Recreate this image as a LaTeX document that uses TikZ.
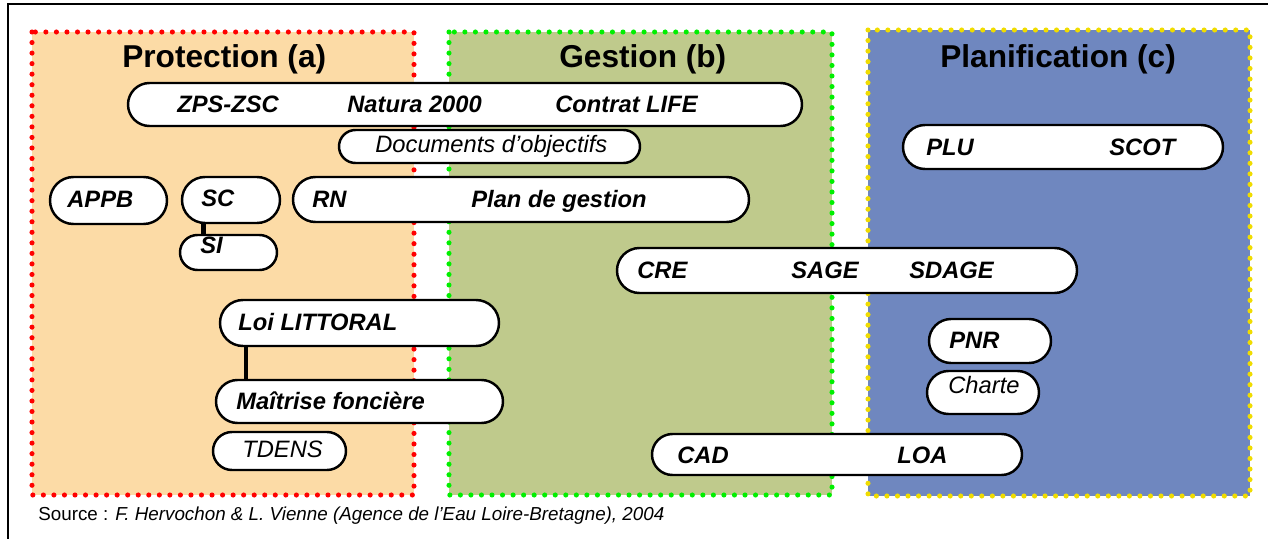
\documentclass[tikz,border=0pt]{standalone}
\usepackage{fontspec}
\setmainfont{Liberation Sans}
\usetikzlibrary{shapes.misc,fit}

\definecolor{protfill}{RGB}{252,219,166}
\definecolor{gestfill}{RGB}{191,202,140}
\definecolor{planfill}{RGB}{111,135,191}
\definecolor{protdot}{RGB}{255,0,0}
\definecolor{gestdot}{RGB}{0,240,0}
\definecolor{plandot}{RGB}{240,220,0}

\tikzset{
  zone/.style={line width=2.9pt,line cap=round,dash pattern=on 0pt off 6pt},
  pill/.style={rounded rectangle,draw=black,fill=white,line width=1.4pt,inner sep=0pt},
  lab/.style={anchor=base west,inner sep=0pt,font=\fontsize{13.5}{16}\selectfont\bfseries\itshape},
  labit/.style={anchor=base west,inner sep=0pt,font=\fontsize{13.5}{16}\selectfont\itshape},
  titre/.style={anchor=base west,inner sep=0pt,font=\fontsize{18}{22}\selectfont\bfseries},
  link/.style={line width=2.4pt}
}

% pill from its outer corners (x1,y1) to (x2,y2), arcs included
\newcommand\pillbox[5]{%
  \node[pill,fit={({#2+(#5-#3)/2},#3) ({#4-(#5-#3)/2},#5)}] (#1) {};}

\begin{document}
\begin{tikzpicture}[x=0.02cm,y=-0.02cm]
  \useasboundingbox (0,0) rectangle (1268,538);
  \begin{scope}
    \clip (0,0) rectangle (1268,538);
    \draw[line width=1.5pt] (8,4) rectangle (1280,550);
  \end{scope}

  % zones
  \fill[protfill] (32,32) rectangle (414,495);
  \fill[gestfill] (449,32) rectangle (832,495);
  \fill[planfill] (868,30) rectangle (1250,496);
  \draw[zone,protdot] (32,32) rectangle (414,495);
  \draw[zone,gestdot] (449,32) rectangle (832,495);
  \draw[zone,plandot] (868,30) rectangle (1250,496);

  \node[titre] (ta) at (122,67) {Protection (a)};
  \node[titre] (tb) at (559,67) {Gestion (b)};
  \node[titre] (tc) at (940,67) {Planification (c)};

  % boites
  \pillbox{natura}{128}{83}{802}{126}
  \pillbox{docob}{339}{130}{640}{163}
  \pillbox{appb}{50}{177}{167}{224}
  \pillbox{sc}{182}{177}{280}{223}
  \pillbox{rn}{293}{177}{749}{222}
  \pillbox{si}{180}{235}{277}{270}
  \pillbox{loi}{220}{300}{499}{346}
  \pillbox{mf}{216}{380}{503}{423}
  \pillbox{tdens}{213}{432}{346}{470}
  \pillbox{plu}{903}{125}{1223}{169}
  \pillbox{sage}{617}{248}{1077}{293}
  \pillbox{pnr}{929}{319}{1051}{363}
  \pillbox{charte}{927}{371}{1039}{414}
  \pillbox{cad}{652}{434}{1022}{475}

  \draw[link] ([xshift=-0.55cm]sc.south) -- ([xshift=-0.55cm]sc.south |- si.north);
  \draw[link] ([xshift=-2.27cm]loi.south) -- ([xshift=-2.27cm]loi.south |- mf.north);

  % textes
  \node[lab] at (177,112) {ZPS-ZSC};
  \node[lab] at (347,112) {Natura 2000};
  \node[lab] at (555,112) {Contrat LIFE};
  \node[labit] at (375,152) {Documents d’objectifs};
  \node[lab] at (67,207) {APPB};
  \node[lab] at (201,206) {SC};
  \node[lab] at (312,207) {RN};
  \node[lab] at (471,207) {Plan de gestion};
  \node[lab] at (200,253) {SI};
  \node[lab] at (238,330) {Loi LITTORAL};
  \node[lab] at (236,409) {Maîtrise foncière};
  \node[labit] at (242,457) {TDENS};
  \node[lab] at (926,155) {PLU};
  \node[lab] at (1109,155) {SCOT};
  \node[lab] at (637,278) {CRE};
  \node[lab] at (791,278) {SAGE};
  \node[lab] at (909,278) {SDAGE};
  \node[lab] at (949,348) {PNR};
  \node[labit] at (948,393) {Charte};
  \node[lab] at (677,463) {CAD};
  \node[lab] at (897,463) {LOA};

  \node[anchor=base west,inner sep=0pt,font=\fontsize{10.7}{12}\selectfont] (src) at (38,520)
    {Source : \textit{F. Hervochon \& L. Vienne (Agence de l’Eau Loire-Bretagne), 2004}};
\end{tikzpicture}
\end{document}
